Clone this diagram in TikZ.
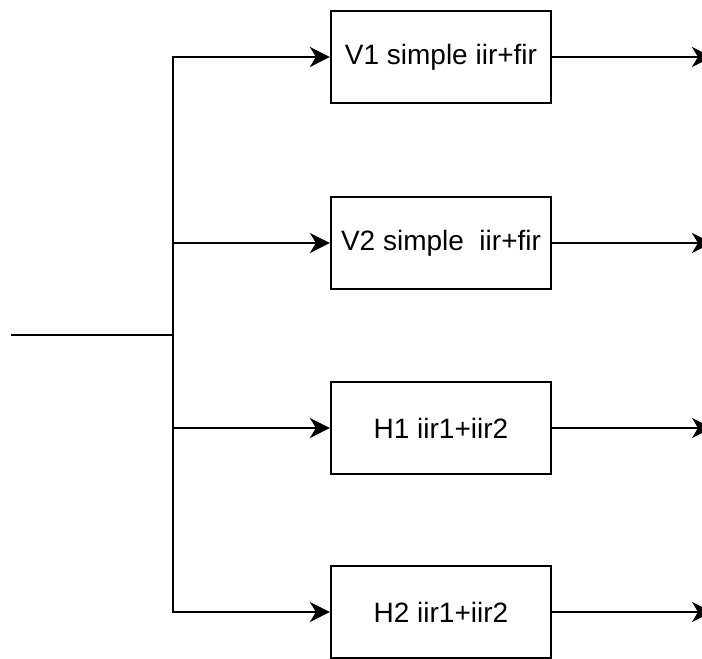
\documentclass[tikz,border=0pt]{standalone}
\usepackage{fontspec}
\setmainfont{Liberation Sans}
\usetikzlibrary{arrows.meta}
\begin{document}
\begin{tikzpicture}[x=1pt,y=-1pt,line width=2.2pt,
  filt/.style={draw,minimum width=220pt,minimum height=92pt,inner sep=0pt,
    font=\fontsize{28}{34}\selectfont},
  >={Stealth[length=20pt,width=20pt,inset=6pt]}]
\useasboundingbox (0,0) rectangle (702,659);
\foreach \t/\y [count=\n] in {
{V1 simple iir+fir}/57,
{V2 simple~~iir+fir}/243,
{H1 iir1+iir2}/428,
{H2 iir1+iir2}/612} {
\node[filt] (b\n) at (441,\y) {\t};
}
\coordinate (in) at (11,335);
\coordinate (bus) at (173,335);
\coordinate (out) at (712,335);
\draw (in) -- (bus);
\draw[line cap=rect] (bus |- b1.west) -- (bus |- b4.west);
\foreach \n in {1,...,4} {
\draw[->] (bus |- b\n.west) -- (b\n.west);
\draw[->] (b\n.east) -- (out |- b\n.east);
}
\end{tikzpicture}
\end{document}
